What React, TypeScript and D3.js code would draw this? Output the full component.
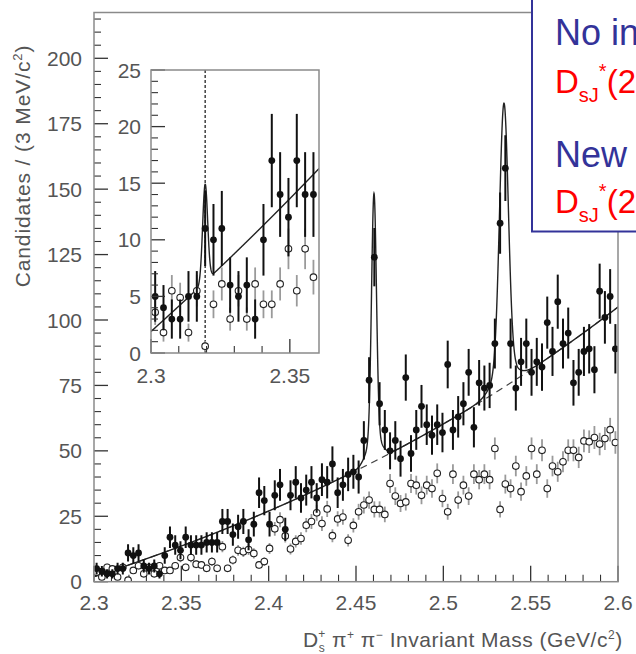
import React from "react";
import * as d3 from "d3";

const W = 636;
const H = 654;

// 3 MeV bins from 2.300 to 2.600 GeV/c^2 (bin centres)
const BIN_START = 2.3015;
const BIN_WIDTH = 0.003;

// Signal-region candidates per bin (filled markers)
const signalCounts = [
  5, 4, 3, 3, 5, 5, 11, 10, 11, 6, 5, 6, 3, 10, 17, 14, 12, 17, 14, 14,
  14, 15, 15, 15, 23, 23, 18, 21, 23, 16, 22, 34, 31, 22, 33, 37, 20, 33, 38, 32,
  35, 38, 32, 39, 38, 45, 34, 37, 41, 42, 40, 54, 77, 124, 68, 58, 50, 54, 47, 78,
  49, 58, 67, 60, 56, 60, 57, 83, 58, 63, 68, 80, 59, 76, 74, 75, 91, 137, 158, 91,
  74, 84, 91, 80, 84, 82, 99, 88, 107, 91, 95, 76, 80, 88, 89, 81, 111, 101, 109, 89,
];

// Scaled sideband candidates per bin (open markers)
const sidebandCounts = [
  3.6, 1.8, 5.5, 4.9, 1.8, 5.5, 0.6, 4.3, 6.1, 3.0, 5.5, 3.0, 6.1, 4.3, 4.3, 6.1, 9.2, 5.5, 9.2, 6.7,
  6.4, 5.1, 7.7, 5.1, 13.4, 5.1, 8.3, 12.0, 11.4, 12.3, 10.8, 6.4, 7.7, 12.7, 20.2, 23.7, 17.5, 12.5, 15.4, 16.5,
  21.6, 23.0, 26.3, 22.2, 27.8, 17.6, 24.0, 24.7, 15.8, 21.5, 26.7, 29.3, 31.2, 27.6, 27.6, 25.7, 37.5, 32.7, 29.9, 30.5,
  37.5, 36.9, 33.0, 36.9, 35.6, 41.4, 31.8, 26.7, 41.1, 31.2, 36.9, 32.7, 41.1, 39.0, 41.1, 39.0, 50.9, 27.6, 37.3, 35.6,
  44.2, 34.4, 40.4, 50.9, 41.1, 50.2, 35.6, 44.2, 42.0, 45.8, 50.2, 50.2, 47.5, 53.8, 53.5, 55.1, 52.6, 54.7, 58.1, 53.2,
];
const SIDEBAND_SCALE = 0.35;

const massTicks = [2.3, 2.35, 2.4, 2.45, 2.5, 2.55, 2.6];
const massTickLabels = ["2.3", "2.35", "2.4", "2.45", "2.5", "2.55", "2.6"];
const countTicks = [0, 25, 50, 75, 100, 125, 150, 175, 200];
const insetCountTicks = [0, 5, 10, 15, 20, 25];
const insetMassTicks = [2.3, 2.35];
const insetMassTickLabels = ["2.3", "2.35"];

// Fit: cubic background in (m - 2.3) plus double-Gaussian peaks
const bgCoef = [1.9, 221, 247, 538];
const peakMass = [2.4603, 2.5347];
const peakCoreAmp = [93, 100];
const peakCoreSigma = [0.0014, 0.0025];
const peakTailAmp = [9.5, 8.5];
const peakTailSigma = [0.004, 0.006];
// narrow threshold structure shown in the zoomed view
const threshMass = 2.3195;
const threshAmp = 8.6;
const threshSigma = 0.0009;

const background = (m: number) => {
  const t = m - 2.3;
  return bgCoef[0] + bgCoef[1] * t + bgCoef[2] * t * t + bgCoef[3] * t * t * t;
};
const gauss = (m: number, mu: number, a: number, s: number) =>
  a * Math.exp(-0.5 * ((m - mu) / s) ** 2);
const fullFit = (m: number) =>
  background(m) +
  peakMass.reduce(
    (acc, mu, i) =>
      acc + gauss(m, mu, peakCoreAmp[i], peakCoreSigma[i]) + gauss(m, mu, peakTailAmp[i], peakTailSigma[i]),
    0
  );
const insetFit = (m: number) => background(m) + gauss(m, threshMass, threshAmp, threshSigma);

const FONT = "'Liberation Sans', Arial, sans-serif";
const LABEL = "#555";
const FRAME = "#8a8a8a";
const TICK = "#333";
const BLUE = "#333399";
const RED = "#ff0000";

export default function App() {
  const bins = signalCounts.map((n, i) => ({
    m: BIN_START + i * BIN_WIDTH,
    n,
    s: sidebandCounts[i],
  }));

  // main frame
  const L = 94, R = 618, T = 12.5, B = 581.7;
  const x = d3.scaleLinear().domain([2.3, 2.6]).range([L, R]);
  const y = d3.scaleLinear().domain([0, 217.5]).range([B, T]);

  // inset frame
  const iL = 151, iR = 319, iT = 70, iB = 353;
  const ix = d3.scaleLinear().domain([2.3, 2.3605]).range([iL, iR]);
  const iy = d3.scaleLinear().domain([0, 25]).range([iB, iT]);

  const grid = d3.range(2.3, 2.6 + 1e-9, 0.0001);
  const mainLine = d3.line<number>().x((m) => x(m)).y((m) => y(fullFit(m)));
  const bgLine = d3.line<number>().x((m) => x(m)).y((m) => y(background(m)));
  const insetGrid = d3.range(2.3, 2.3605 + 1e-9, 0.00005);
  const insetLine = d3.line<number>().x((m) => ix(m)).y((m) => iy(insetFit(m)));

  const minorY = d3.range(0, 217.5, 5).filter((v) => v % 25 !== 0);
  const minorX = d3.range(0, 31).map((i) => 2.3 + i * 0.01).filter((_, i) => i % 5 !== 0);
  const insetMinorY = d3.range(0, 26).filter((v) => v % 5 !== 0);
  const insetMinorX = [2.31, 2.32, 2.33, 2.34];

  const insetBins = bins.filter((b) => b.m < 2.3605);

  const sigErr = (n: number) => Math.sqrt(n);
  const sbErr = (v: number) => Math.sqrt(v * SIDEBAND_SCALE);

  const markers = (
    data: typeof bins,
    sx: d3.ScaleLinear<number, number>,
    sy: d3.ScaleLinear<number, number>,
    key: string
  ) => (
    <g>
      {data.map((b, i) => (
        <line key={`${key}oe${i}`} x1={sx(b.m)} x2={sx(b.m)} y1={sy(b.s - sbErr(b.s))} y2={sy(b.s + sbErr(b.s))}
          stroke="#9a9a9a" strokeWidth={1.8} />
      ))}
      {data.map((b, i) => (
        <circle key={`${key}oc${i}`} cx={sx(b.m)} cy={sy(b.s)} r={3.3} fill="#fff" stroke="#222" strokeWidth={1.1} />
      ))}
      {data.map((b, i) => (
        <line key={`${key}fe${i}`} x1={sx(b.m)} x2={sx(b.m)} y1={sy(Math.max(0, b.n - sigErr(b.n)))} y2={sy(b.n + sigErr(b.n))}
          stroke="#111" strokeWidth={2} />
      ))}
      {data.map((b, i) => (
        <circle key={`${key}fc${i}`} cx={sx(b.m)} cy={sy(b.n)} r={3.4} fill="#111" />
      ))}
    </g>
  );

  return (
    <svg width={W} height={H} style={{ position: "absolute", left: 0, top: 0, background: "#fff" }} fontFamily={FONT}>
      <defs>
        <clipPath id="mainClip">
          <rect x={L} y={T} width={R - L} height={B - T} />
        </clipPath>
        <clipPath id="insetClip">
          <rect x={iL} y={iT} width={iR - iL} height={iB - iT} />
        </clipPath>
      </defs>

      {/* main axes ticks */}
      {countTicks.map((v) => (
        <line key={`yt${v}`} x1={L} x2={L + 14} y1={y(v)} y2={y(v)} stroke={TICK} strokeWidth={1.3} />
      ))}
      {minorY.map((v) => (
        <line key={`ym${v}`} x1={L} x2={L + 7} y1={y(v)} y2={y(v)} stroke={TICK} strokeWidth={1.1} />
      ))}
      {massTicks.map((v) => (
        <line key={`xt${v}`} x1={x(v)} x2={x(v)} y1={B} y2={B - 16} stroke={TICK} strokeWidth={1.3} />
      ))}
      {minorX.map((v, i) => (
        <line key={`xm${i}`} x1={x(v)} x2={x(v)} y1={B} y2={B - 7} stroke={TICK} strokeWidth={1.1} />
      ))}
      {countTicks.map((v) => (
        <text key={`yl${v}`} x={82} y={y(v)} dy="0.36em" textAnchor="end" fontSize={21} fill={LABEL}>{v}</text>
      ))}
      {massTicks.map((v, i) => (
        <text key={`xl${v}`} x={x(v)} y={610} textAnchor="middle" fontSize={21} fill={LABEL}>{massTickLabels[i]}</text>
      ))}

      {/* fit curves and data */}
      <g clipPath="url(#mainClip)">
        <path d={bgLine(grid) ?? ""} fill="none" stroke="#444" strokeWidth={1.2} strokeDasharray="7,5" />
        <path d={mainLine(grid) ?? ""} fill="none" stroke="#222" strokeWidth={1.4} />
        {markers(bins, x, y, "m")}
      </g>
      <rect x={L} y={T} width={R - L} height={B - T} fill="none" stroke={FRAME} strokeWidth={1.5} />

      {/* zoomed threshold region */}
      <rect x={iL} y={iT} width={iR - iL} height={iB - iT} fill="#fff" />
      <g clipPath="url(#insetClip)">
        <line x1={ix(threshMass)} x2={ix(threshMass)} y1={iT} y2={iB} stroke="#111" strokeWidth={1.2} strokeDasharray="3,2" />
        <path d={insetLine(insetGrid) ?? ""} fill="none" stroke="#222" strokeWidth={1.4} />
        {markers(insetBins, ix, iy, "i")}
      </g>
      {insetCountTicks.map((v) => (
        <line key={`iyt${v}`} x1={iL} x2={iL + 14} y1={iy(v)} y2={iy(v)} stroke={TICK} strokeWidth={1.3} />
      ))}
      {insetMinorY.map((v) => (
        <line key={`iym${v}`} x1={iL} x2={iL + 7} y1={iy(v)} y2={iy(v)} stroke={TICK} strokeWidth={1.1} />
      ))}
      {insetMassTicks.map((v) => (
        <line key={`ixt${v}`} x1={ix(v)} x2={ix(v)} y1={iB} y2={iB - 14} stroke={TICK} strokeWidth={1.3} />
      ))}
      {insetMinorX.map((v) => (
        <line key={`ixm${v}`} x1={ix(v)} x2={ix(v)} y1={iB} y2={iB - 7} stroke={TICK} strokeWidth={1.1} />
      ))}
      <rect x={iL} y={iT} width={iR - iL} height={iB - iT} fill="none" stroke={FRAME} strokeWidth={1.5} />
      {insetCountTicks.map((v) => (
        <text key={`iyl${v}`} x={141} y={iy(v)} dy="0.36em" textAnchor="end" fontSize={21} fill={LABEL}>{v}</text>
      ))}
      {insetMassTicks.map((v, i) => (
        <text key={`ixl${v}`} x={ix(v)} y={383} textAnchor="middle" fontSize={21} fill={LABEL}>{insetMassTickLabels[i]}</text>
      ))}

      {/* axis titles */}
      <text transform="translate(30,166) rotate(-90)" textAnchor="middle" fontSize={21} letterSpacing={0.9} fill={LABEL}>
        Candidates / (3 MeV/c<tspan dy={-8} fontSize={13}>2</tspan><tspan dy={8}>)</tspan>
      </text>
      <text x={303} y={647} fontSize={21} letterSpacing={0.5} fill={LABEL}>
        D<tspan dy={5} fontSize={12}>s</tspan>
        <tspan dx={-7} dy={-14} fontSize={12}>+</tspan>
        <tspan dy={9}> π</tspan>
        <tspan dy={-8} fontSize={12}>+</tspan>
        <tspan dy={8}> π</tspan>
        <tspan dy={-8} fontSize={12}>−</tspan>
        <tspan dy={8}> Invariant Mass (GeV/c</tspan>
        <tspan dy={-8} fontSize={12}>2</tspan>
        <tspan dy={8}>)</tspan>
      </text>

      {/* annotation box */}
      <rect x={532} y={-5} width={130} height={236.5} fill="#fff" stroke={BLUE} strokeWidth={2} />
      <text x={555} y={45} fontSize={36} fill={BLUE}>No in</text>
      <text x={555} y={93} fontSize={33} fill={RED}>
        D<tspan dy={9} fontSize={20}>sJ</tspan>
        <tspan dy={-24} fontSize={20}>*</tspan>
        <tspan dy={15}>(2</tspan>
      </text>
      <text x={555} y={167} fontSize={36} fill={BLUE}>New</text>
      <text x={555} y={213} fontSize={33} fill={RED}>
        D<tspan dy={9} fontSize={20}>sJ</tspan>
        <tspan dy={-24} fontSize={20}>*</tspan>
        <tspan dy={15}>(2</tspan>
      </text>
    </svg>
  );
}
